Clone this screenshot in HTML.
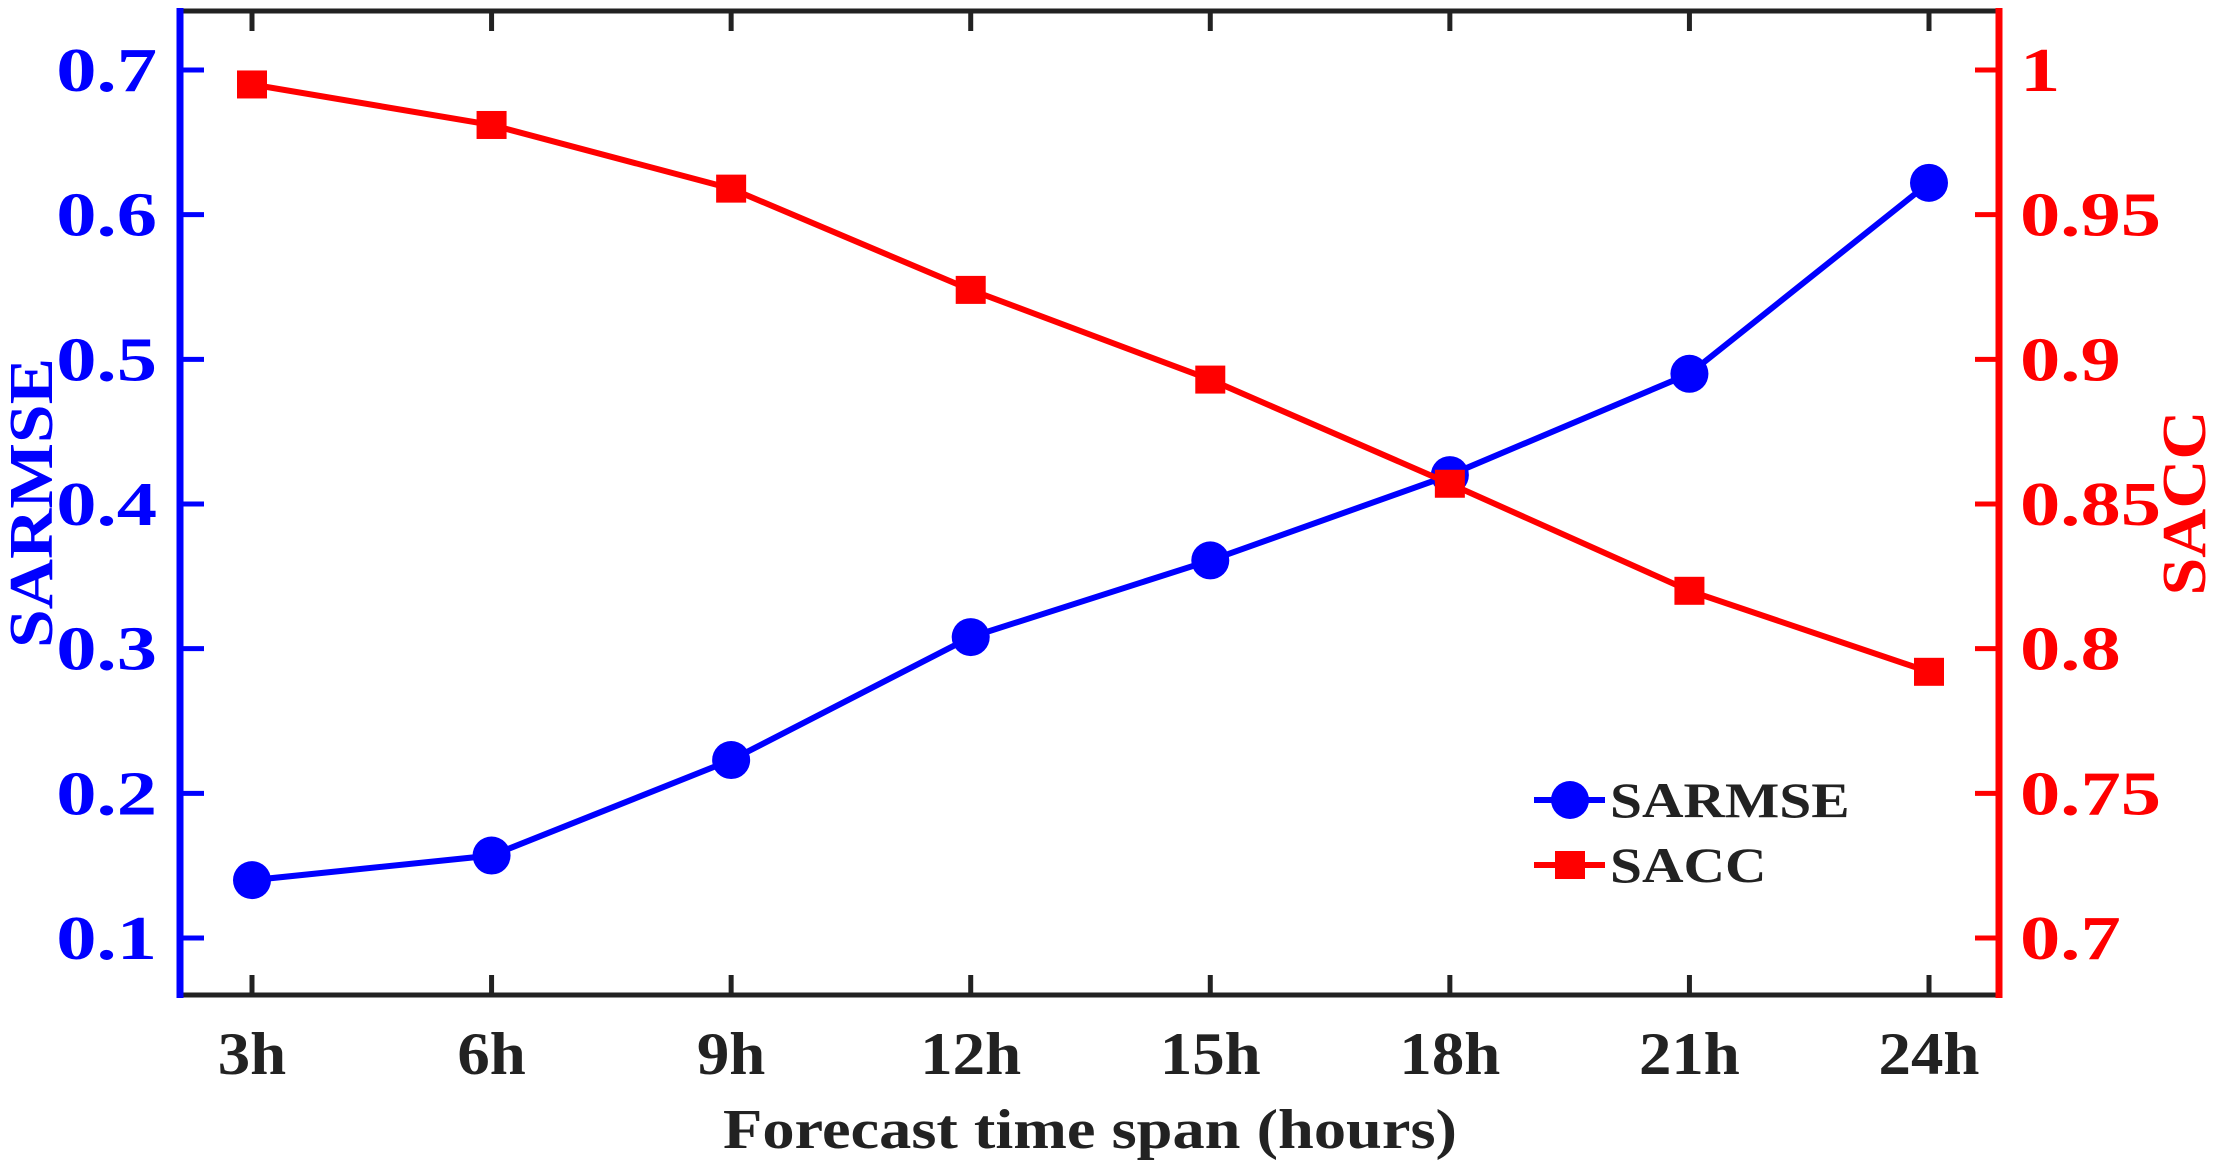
<!DOCTYPE html>
<html><head><meta charset="utf-8"><style>
html,body{margin:0;padding:0;background:#fff;}
svg{display:block;font-family:"Liberation Serif",serif;font-weight:bold;}
</style></head><body>
<svg id="chart" width="2217" height="1174" viewBox="0 0 2217 1174" xmlns="http://www.w3.org/2000/svg"></svg>
<script>
const categories = ["3h","6h","9h","12h","15h","18h","21h","24h"];
const sarmse = [0.140,0.157,0.223,0.308,0.361,0.420,0.490,0.622];
const sacc = [0.995,0.981,0.959,0.924,0.893,0.857,0.820,0.792];
const leftTicks = [0.1,0.2,0.3,0.4,0.5,0.6,0.7];
const leftTickLabels = ["0.1","0.2","0.3","0.4","0.5","0.6","0.7"];
const rightTicks = [0.7,0.75,0.8,0.85,0.9,0.95,1];
const rightTickLabels = ["0.7","0.75","0.8","0.85","0.9","0.95","1"];

const NS="http://www.w3.org/2000/svg";
const svg=document.getElementById('chart');
const L=180,R=1999,T=11,B=995;
const x0=252,x1=1929;
function xs(i){return x0+(x1-x0)*i/(categories.length-1);}
function yl(v){return 938-(v-0.1)*(938-70)/0.6;}
function yr(v){return 938-(v-0.7)*(938-70)/0.3;}
function mk(tag,attrs,parent){const e=document.createElementNS(NS,tag);for(const k in attrs)e.setAttribute(k,attrs[k]);(parent||svg).appendChild(e);return e;}
function stretch(t,f){const w=t.getComputedTextLength();t.setAttribute('textLength',w*f);t.setAttribute('lengthAdjust','spacingAndGlyphs');}

let e;
e=mk('line',{x1:L,y1:T,x2:R,y2:T,stroke:'#222',"stroke-width":5});


e=mk('line',{x1:L,y1:B,x2:R,y2:B,stroke:'#222',"stroke-width":5});


categories.forEach((c,i)=>{
  const x=xs(i);
  e=mk('line',{x1:x,y1:B,x2:x,y2:B-20,stroke:'#222',"stroke-width":5});
  
  
  e=mk('line',{x1:x,y1:T,x2:x,y2:T+20,stroke:'#222',"stroke-width":5});
  
  
  e=mk('text',{x:x,y:1074,"text-anchor":"middle","font-size":60,fill:'#222'});
  e.textContent=c;
  
  
  stretch(e,1.08);
});
e=mk('line',{x1:L,y1:T-3,x2:L,y2:B+3,stroke:'#0000ff',"stroke-width":7});


e=mk('line',{x1:R,y1:T-3,x2:R,y2:B+3,stroke:'#ff0000',"stroke-width":7});


leftTicks.forEach((v,i)=>{
  const y=yl(v);
  e=mk('line',{x1:L,y1:y,x2:L+24,y2:y,stroke:'#0000ff',"stroke-width":5});
  
  
  e=mk('text',{x:157,y:y+21,"text-anchor":"end","font-size":62,fill:'#0000ff'});
  e.textContent=leftTickLabels[i];
  
  
  stretch(e,1.3);
});
rightTicks.forEach((v,i)=>{
  const y=yr(v);
  e=mk('line',{x1:R-24,y1:y,x2:R,y2:y,stroke:'#ff0000',"stroke-width":5});
  
  
  e=mk('text',{x:2020,y:y+21,"text-anchor":"start","font-size":62,fill:'#ff0000'});
  e.textContent=rightTickLabels[i];
  
  
  stretch(e,1.3);
});
e=mk('text',{x:1090,y:1148,"text-anchor":"middle","font-size":56,fill:'#222'});
e.textContent='Forecast time span (hours)';


stretch(e,1.15);
e=mk('text',{x:0,y:0,"text-anchor":"middle","font-size":62,fill:'#0000ff',transform:'translate(52,503) rotate(-90)',textLength:290,lengthAdjust:'spacingAndGlyphs'});
e.textContent='SARMSE';


e=mk('text',{x:0,y:0,"text-anchor":"middle","font-size":62,fill:'#ff0000',transform:'translate(2205,503) rotate(-90)',textLength:185,lengthAdjust:'spacingAndGlyphs'});
e.textContent='SACC';



e=mk('polyline',{points:sarmse.map((v,i)=>xs(i)+','+yl(v)).join(' '),fill:'none',stroke:'#0000ff',"stroke-width":6});


sarmse.forEach((v,i)=>{
  e=mk('circle',{cx:xs(i),cy:yl(v),r:19,fill:'#0000ff'});
  
  
});
e=mk('polyline',{points:sacc.map((v,i)=>xs(i)+','+yr(v)).join(' '),fill:'none',stroke:'#ff0000',"stroke-width":6});


sacc.forEach((v,i)=>{
  e=mk('rect',{x:xs(i)-15,y:yr(v)-14,width:30,height:28,fill:'#ff0000'});
  
  
});

const lg=mk('g',{});


e=mk('line',{x1:1534,y1:800,x2:1605,y2:800,stroke:'#0000ff',"stroke-width":6},lg);


e=mk('circle',{cx:1570,cy:800,r:19,fill:'#0000ff'},lg);


e=mk('text',{x:1610,y:817,"font-size":50,fill:'#222'},lg);
e.textContent='SARMSE';


stretch(e,1.15);
e=mk('line',{x1:1534,y1:865,x2:1605,y2:865,stroke:'#ff0000',"stroke-width":6},lg);


e=mk('rect',{x:1555,y:851,width:30,height:28,fill:'#ff0000'},lg);


e=mk('text',{x:1610,y:882,"font-size":50,fill:'#222'},lg);
e.textContent='SACC';


stretch(e,1.15);
</script>
</body></html>
